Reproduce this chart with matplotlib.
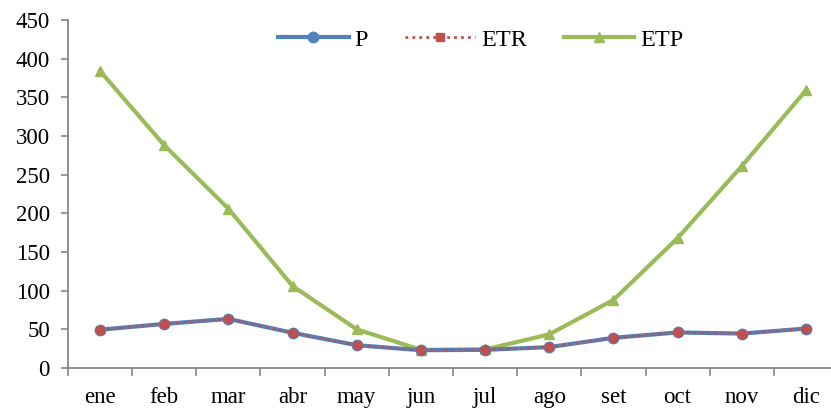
import matplotlib
matplotlib.use("Agg")
import matplotlib.pyplot as plt
from matplotlib.lines import Line2D

months = ["ene", "feb", "mar", "abr", "may", "jun", "jul", "ago", "set", "oct", "nov", "dic"]
P = [49.5, 57, 63.5, 45.5, 29.5, 23, 23.5, 27, 39, 46, 44.5, 51]
ETR = [49.5, 57, 63.5, 45.5, 29.5, 23, 23.5, 27, 39, 46, 44.5, 51]
ETP = [384, 288, 206, 106, 50, 23.5, 24, 43.5, 88, 168, 261, 359]
yticks = [0, 50, 100, 150, 200, 250, 300, 350, 400, 450]

plt.rcParams['font.family'] = ['Liberation Serif', 'DejaVu Serif']

W, H = 831, 409
fig = plt.figure(figsize=(W/100, H/100), dpi=100)
left, right, top, bottom = 68, 838, 20, 368
ax = fig.add_axes([left/W, 1 - bottom/H, (right-left)/W, (bottom-top)/H])

blue = "#4F81BD"
red = "#C0504D"
green = "#9BBB59"
x = list(range(len(months)))
ax.plot(x, P, color=blue, lw=3, marker='o', ms=7.5, mfc=blue, mec=blue, zorder=3)
ax.plot(x, ETR, color=red, lw=2, ls=(0, (1, 1.5)), marker='o', ms=6, mfc=red, mec=red, zorder=4)
ax.plot(x, ETP, color=green, lw=3, marker='^', ms=7.5, mfc=green, mec=green, zorder=2)

ax.set_xlim(-0.5, 11.5)
ax.set_ylim(0, 450)
ax.set_yticks(yticks)
ax.set_xticks([i + 0.5 for i in range(-1, 12)], minor=False)
ax.set_xticklabels([])
ax.set_xticks(x, minor=True)
ax.set_xticklabels(months, minor=True)
ax.tick_params(axis='x', which='minor', length=0, pad=14, labelsize=16.5)
ax.tick_params(axis='x', which='major', length=6, color='#868686', width=1.2)
ax.tick_params(axis='y', length=5, color='#868686', width=1.2, labelsize=16.5, pad=8)
for s in ['top', 'right']:
    ax.spines[s].set_visible(False)
for s in ['left', 'bottom']:
    ax.spines[s].set_color('#868686')
    ax.spines[s].set_linewidth(1.3)

handles = [
    Line2D([], [], color=blue, lw=3, marker='o', ms=7.5),
    Line2D([], [], color=red, lw=2, ls=(0, (1, 1.5)), marker='s', ms=6),
    Line2D([], [], color=green, lw=3, marker='^', ms=7.5),
]
ax.legend(handles, ["P", "ETR", "ETP"], loc='upper center', bbox_to_anchor=(0.536, 1.01),
          ncol=3, frameon=False, fontsize=17.5, handlelength=2.9, columnspacing=1.5, handletextpad=0.25,
          borderaxespad=0.1)

fig.savefig("out.png", dpi=100)
